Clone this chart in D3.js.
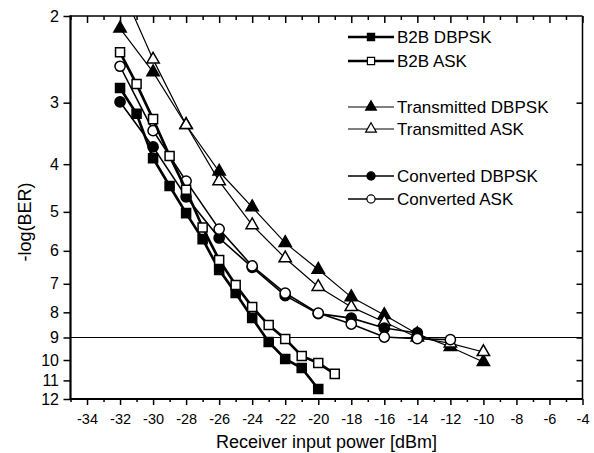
<!DOCTYPE html>
<html>
<head>
<meta charset="utf-8">
<script src="https://cdn.jsdelivr.net/npm/d3@7"></script>
<style>
  body { margin: 0; background: #fff; }
  svg { display: block; font-family: "Liberation Sans", Arial, sans-serif; }
</style>
</head>
<body>
<svg id="chart" width="594" height="453"></svg>
<script>
// values: receiver power [dBm] and -log(BER)
const b2bDbpskX = [-32, -31, -30, -29, -28, -27, -26, -25, -24, -23, -22, -21, -20];
const b2bDbpskY = [2.80, 3.16, 3.89, 4.43, 5.03, 5.68, 6.56, 7.31, 8.21, 9.19, 9.95, 10.38, 11.45];

const b2bAskX = [-32, -31, -30, -29, -28, -27, -26, -25, -24, -23, -22, -21, -20, -19];
const b2bAskY = [2.37, 2.75, 3.24, 3.85, 4.51, 5.38, 6.26, 7.04, 7.80, 8.49, 9.06, 9.81, 10.14, 10.67];

const txX = [-32, -30, -28, -26, -24, -22, -20, -18, -16, -14, -12, -10];
const txDbpskY = [2.12, 2.60, 3.33, 4.14, 4.89, 5.78, 6.55, 7.45, 8.10, 8.85, 9.41, 10.09];
const txAskY = [1.73, 2.45, 3.33, 4.33, 5.32, 6.21, 7.10, 7.80, 8.37, 9.00, 9.25, 9.63];

const convDbpskX = [-32, -30, -28, -26, -24, -22, -20, -18, -16, -14];
const convDbpskY = [2.99, 3.69, 4.66, 5.65, 6.48, 7.40, 8.05, 8.22, 8.61, 8.81];
const convAskX = [-32, -30, -28, -26, -24, -22, -20, -18, -16, -14, -12];
const convAskY = [2.53, 3.42, 4.33, 5.42, 6.44, 7.31, 8.03, 8.45, 8.98, 9.05, 9.09];

const xMajor = d3.range(-34, -3, 2);
const xMinor = d3.range(-35, -4, 2);
const yTicks = [2, 3, 4, 5, 6, 7, 8, 9, 10, 11, 12];
const errorFloor = 9;

const series = [
    {name: 'Transmitted DBPSK', x: txX, y: txDbpskY, shape: 'triangle', fill: '#000', lw: 1.2},
    {name: 'Transmitted ASK', x: txX, y: txAskY, shape: 'triangle', fill: '#fff', lw: 1.2},
    {name: 'Converted DBPSK', x: convDbpskX, y: convDbpskY, shape: 'circle', fill: '#000', lw: 1.6},
    {name: 'Converted ASK', x: convAskX, y: convAskY, shape: 'circle', fill: '#fff', lw: 1.6},
    {name: 'B2B DBPSK', x: b2bDbpskX, y: b2bDbpskY, shape: 'square', fill: '#000', lw: 2.7},
    {name: 'B2B ASK', x: b2bAskX, y: b2bAskY, shape: 'square', fill: '#fff', lw: 2.7}
];
const legendOrder = ['B2B DBPSK', 'B2B ASK', 'Transmitted DBPSK', 'Transmitted ASK', 'Converted DBPSK', 'Converted ASK'];
const legendY = [37, 61, 107, 129, 176, 199];

const plot = {left: 70.5, right: 582.5, top: 16, bottom: 399};

const x = d3.scaleLinear().domain([-35, -4]).range([plot.left, plot.right]);
const y = d3.scaleLog().domain([2, 12]).range([plot.top, plot.bottom]);

const svg = d3.select('#chart');

const symbolTypes = {square: d3.symbolSquare, circle: d3.symbolCircle, triangle: d3.symbolTriangle};
const symbolSize = {square: 82, circle: 82, triangle: 66};

svg.append('clipPath')
    .attr('id', 'plotclip')
    .append('rect')
    .attr('x', plot.left).attr('y', plot.top)
    .attr('width', plot.right - plot.left).attr('height', plot.bottom - plot.top);

// axes, ticks only (frame drawn separately)
function noDomain(g) { g.select('.domain').remove(); }
function tickLines(g) { g.selectAll('line').attr('stroke-width', 1.5); }

svg.append('g')
    .attr('transform', `translate(0, ${plot.bottom})`)
    .call(d3.axisBottom(x).tickValues(xMajor).tickSize(6).tickPadding(9).tickFormat(d => String(d)))
    .call(noDomain).call(tickLines)
    .call(g => g.selectAll('text').attr('font-size', 14.5).attr('font-family', null).attr('fill', '#000'));

svg.append('g')
    .attr('transform', `translate(0, ${plot.bottom})`)
    .call(d3.axisBottom(x).tickValues(xMinor).tickSize(3).tickFormat(''))
    .call(noDomain).call(tickLines);

svg.append('g')
    .attr('transform', `translate(0, ${plot.top})`)
    .call(d3.axisBottom(x).tickValues(xMajor).tickSize(7).tickFormat(''))
    .call(noDomain).call(tickLines);

svg.append('g')
    .attr('transform', `translate(0, ${plot.top})`)
    .call(d3.axisBottom(x).tickValues(xMinor).tickSize(4).tickFormat(''))
    .call(noDomain).call(tickLines);

svg.append('g')
    .attr('transform', `translate(${plot.left}, 0)`)
    .call(d3.axisLeft(y).tickValues(yTicks).tickSize(7).tickPadding(4.5).tickFormat(d => String(d)))
    .call(noDomain).call(tickLines)
    .call(g => g.selectAll('text').attr('font-size', 16).attr('font-family', null).attr('fill', '#000'));

svg.append('g')
    .attr('transform', `translate(${plot.right}, 0)`)
    .call(d3.axisLeft(y).tickValues(yTicks.slice(1, -1)).tickSize(6).tickFormat(''))
    .call(noDomain).call(tickLines);

// frame
function frameLine(x1, y1, x2, y2, w) {
    svg.append('line').attr('x1', x1).attr('y1', y1).attr('x2', x2).attr('y2', y2)
        .attr('stroke', '#000').attr('stroke-width', w);
}
frameLine(plot.left, plot.top, plot.right, plot.top, 1.5);
frameLine(plot.right, plot.top, plot.right, plot.bottom, 1.5);
frameLine(plot.left, plot.bottom, plot.right, plot.bottom, 2.2);
frameLine(plot.left, plot.top - 0.75, plot.left, plot.bottom + 1, 2.2);

// BER 1e-9 reference line
frameLine(plot.left, y(errorFloor), plot.right, y(errorFloor), 1.2);

// curves
const line = d3.line().x(d => x(d[0])).y(d => y(d[1]));
const curves = svg.append('g').attr('clip-path', 'url(#plotclip)');

series.forEach(s => {
    const pts = s.x.map((v, i) => [v, s.y[i]]);
    curves.append('path')
        .datum(pts)
        .attr('d', line)
        .attr('fill', 'none')
        .attr('stroke', '#000')
        .attr('stroke-width', s.lw);
    curves.selectAll(null)
        .data(pts.filter(p => p[1] >= 2))
        .enter()
        .append('path')
        .attr('transform', p => `translate(${x(p[0])}, ${y(p[1])})`)
        .attr('d', d3.symbol().type(symbolTypes[s.shape]).size(symbolSize[s.shape]))
        .attr('fill', s.fill)
        .attr('stroke', '#000')
        .attr('stroke-width', 1.5);
});

// legend
const legend = svg.append('g');
legendOrder.forEach((name, i) => {
    const s = series.find(d => d.name === name);
    const ly = legendY[i];
    legend.append('line')
        .attr('x1', 348).attr('x2', 394).attr('y1', ly).attr('y2', ly)
        .attr('stroke', '#000').attr('stroke-width', s.lw);
    legend.append('path')
        .attr('transform', `translate(371, ${ly})`)
        .attr('d', d3.symbol().type(symbolTypes[s.shape]).size(s.shape === 'triangle' ? 50 : 52))
        .attr('fill', s.fill)
        .attr('stroke', '#000')
        .attr('stroke-width', 1.2);
    legend.append('text')
        .attr('x', 397).attr('y', ly).attr('dy', '0.35em')
        .attr('font-size', 17)
        .text(name);
});

// axis titles
svg.append('text')
    .attr('x', (plot.left + plot.right) / 2).attr('y', 448)
    .attr('text-anchor', 'middle')
    .attr('font-size', 18)
    .text('Receiver input power [dBm]');

svg.append('text')
    .attr('transform', 'translate(31, 222) rotate(-90)')
    .attr('text-anchor', 'middle')
    .attr('font-size', 18)
    .text('-log(BER)');
</script>
</body>
</html>
